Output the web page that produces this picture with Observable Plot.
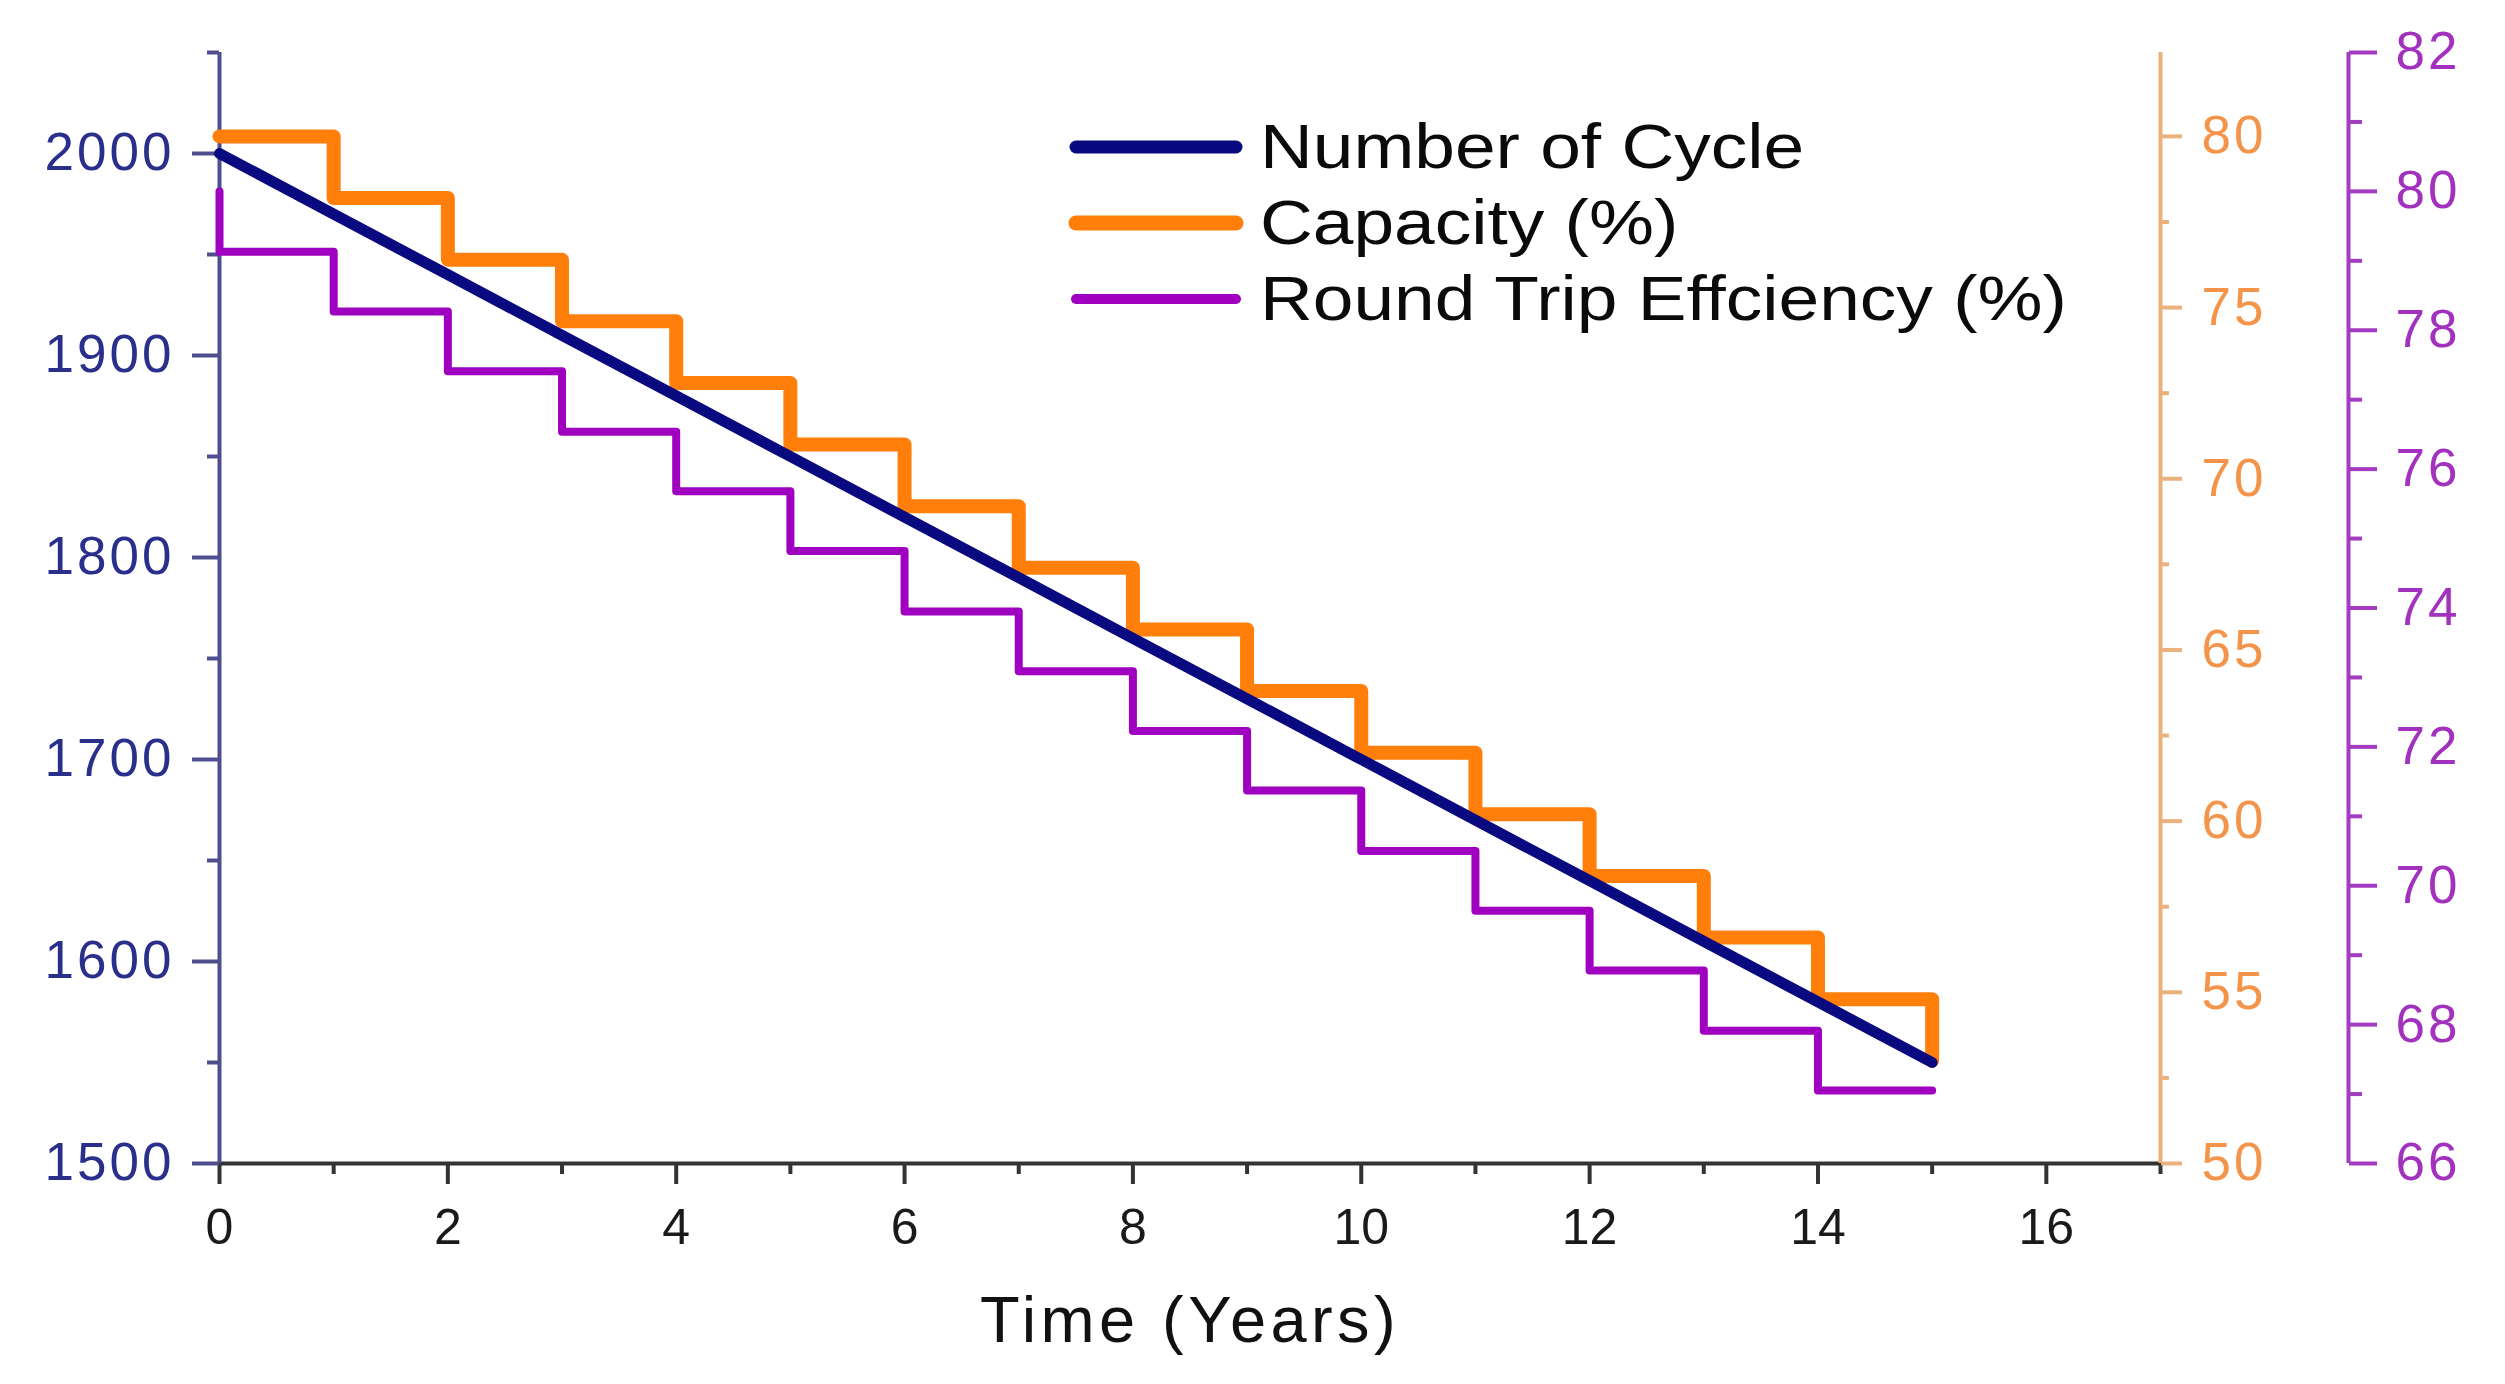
<!DOCTYPE html>
<html>
<head>
<meta charset="utf-8">
<script src="https://cdn.jsdelivr.net/npm/d3@7"></script>
<script src="https://cdn.jsdelivr.net/npm/@observablehq/plot@0.6"></script>
<style>
html,body{margin:0;padding:0;background:#fff;}
#chart{position:relative;width:2505px;height:1384px;overflow:hidden;}
#chart > svg{position:absolute;left:0;top:0;}
g[aria-label="x-axis label"] text{letter-spacing:4.4px;}
g[aria-label="y-axis tick label"] text{letter-spacing:3px;}
</style>
</head>
<body>
<div id="chart"></div>
<script>
// ---- data ----
const years = [0,1,2,3,4,5,6,7,8,9,10,11,12,13,14,15];
const numberOfCycle = [2000,1970,1940,1910,1880,1850,1820,1790,1760,1730,1700,1670,1640,1610,1580,1550];
const capacity = [80,78.2,76.4,74.6,72.8,71,69.2,67.4,65.6,63.8,62,60.2,58.4,56.6,54.8,53];
const roundTripEfficiency = [80,79.13,78.27,77.41,76.54,75.68,74.82,73.95,73.09,72.23,71.37,70.5,69.64,68.78,67.91,67.05];

const seriesNames = ["Number of Cycle", "Capacity (%)", "Round Trip Effciency (%)"];

const xMajorTicks = [0,2,4,6,8,10,12,14,16];
const xMinorTicks = [1,3,5,7,9,11,13,15,17];
const cycleMajorTicks = [1500,1600,1700,1800,1900,2000];
const cycleMinorTicks = [1550,1650,1750,1850,1950,2050];
const capacityMajorTicks = [50,55,60,65,70,75,80];
const capacityMinorTicks = [52.5,57.5,62.5,67.5,72.5,77.5];
const rteMajorTicks = [66,68,70,72,74,76,78,80,82];
const rteMinorTicks = [67,69,71,73,75,77,79,81];

const xDomain = [0,17];
const cycleDomain = [1500,2050];
const capacityDomain = [50,82.45];
const rteDomain = [66,82];

// ---- styles ----
const navy = "#0a0a80", orange = "#ff7f0a", purple = "#a000bf";
const leftAxisColor = "#4e4e8e", leftLabelColor = "#2b2f8c";
const capAxisColor = "#eab17c", capLabelColor = "#f3944a";
const rteAxisColor = "#a43cc2", rteLabelColor = "#a232be";
const W = 2505, H = 1384, ML = 219, MR = 345, MT = 52, MB = 221;
const RTE_DX = 188;

const lin = (from, to) => v => to[0] + (v - from[0]) * (to[1] - to[0]) / (from[1] - from[0]);
const capToY = lin(capacityDomain, cycleDomain), yToCap = lin(cycleDomain, capacityDomain);
const rteToY = lin(rteDomain, cycleDomain), yToRte = lin(cycleDomain, rteDomain);
const fmtVia = f => y => String(Math.round(f(y)));

const rows = years.map((t, i) => ({t, cyc: numberOfCycle[i], cap: capacity[i], rte: roundTripEfficiency[i]}));

const chart = Plot.plot({
  width: W, height: H,
  marginLeft: ML, marginRight: MR, marginTop: MT, marginBottom: MB,
  style: {fontFamily: '"Liberation Sans", Arial, sans-serif', background: "#fff", overflow: "visible"},
  x: {domain: xDomain},
  y: {domain: cycleDomain},
  marks: [
    // axis lines
    Plot.ruleY([cycleDomain[0]], {stroke: "#333", strokeWidth: 4}),
    Plot.ruleX([xDomain[0]], {stroke: leftAxisColor, strokeWidth: 4}),
    Plot.ruleX([xDomain[1]], {stroke: capAxisColor, strokeWidth: 4}),
    Plot.ruleX([xDomain[1]], {stroke: rteAxisColor, strokeWidth: 4, dx: RTE_DX}),
    // x axis
    Plot.axisX({ticks: xMajorTicks, tickSize: 21, tickPadding: 24, stroke: "#333", strokeWidth: 4, fill: "#1a1a1a", fontSize: 50, tickFormat: "d", label: null}),
    Plot.axisX({ticks: xMinorTicks, tickSize: 11, stroke: "#333", strokeWidth: 4, tickFormat: () => "", label: null}),
    Plot.axisX({ticks: [], tickSize: 0, label: "Time (Years)", labelAnchor: "center", labelOffset: 178, labelArrow: "none", fontSize: 65, fill: "#111"}),
    // left axis
    Plot.axisY({ticks: cycleMajorTicks, tickSize: 27, tickPadding: 18, stroke: leftAxisColor, strokeWidth: 4, fill: leftLabelColor, fontSize: 53, tickFormat: "d", label: null}),
    Plot.axisY({ticks: cycleMinorTicks, tickSize: 12, stroke: leftAxisColor, strokeWidth: 4, tickFormat: () => "", label: null}),
    // capacity axis
    Plot.axisY({anchor: "right", ticks: capacityMajorTicks.map(capToY), tickSize: 21, tickPadding: 20, stroke: capAxisColor, strokeWidth: 4, fill: capLabelColor, fontSize: 53, tickFormat: fmtVia(yToCap), label: null}),
    Plot.axisY({anchor: "right", ticks: capacityMinorTicks.map(capToY), tickSize: 8, stroke: capAxisColor, strokeWidth: 4, tickFormat: () => "", label: null}),
    // RTE axis
    Plot.axisY({anchor: "right", dx: RTE_DX, ticks: rteMajorTicks.map(rteToY), tickSize: 28, tickPadding: 19, stroke: rteAxisColor, strokeWidth: 4, fill: rteLabelColor, fontSize: 53, tickFormat: fmtVia(yToRte), label: null}),
    Plot.axisY({anchor: "right", dx: RTE_DX, ticks: rteMinorTicks.map(rteToY), tickSize: 13, stroke: rteAxisColor, strokeWidth: 4, tickFormat: () => "", label: null}),
    // data
    Plot.line(rows, {x: "t", y: d => capToY(d.cap), curve: "step-after", stroke: orange, strokeWidth: 14}),
    Plot.line(rows, {x: "t", y: d => rteToY(d.rte), curve: "step-before", stroke: purple, strokeWidth: 8}),
    Plot.line(rows, {x: "t", y: "cyc", stroke: navy, strokeWidth: 11})
  ]
});
document.getElementById("chart").appendChild(chart);

// ---- legend (overlay) ----
const legendColors = [navy, orange, purple];
const legendThickness = [13, 15, 10];
const lg = d3.select("#chart").append("svg")
  .attr("width", W).attr("height", H)
  .style("pointer-events", "none")
  .attr("font-family", '"Liberation Sans", Arial, sans-serif');
const row = lg.selectAll("g").data(seriesNames).join("g")
  .attr("transform", (d, i) => `translate(1070, ${168 + i * 76})`);
row.append("line")
  .attr("x1", 6).attr("x2", 166).attr("y1", -21).attr("y2", -21)
  .attr("stroke", (d, i) => legendColors[i])
  .attr("stroke-width", (d, i) => legendThickness[i])
  .attr("stroke-linecap", "round");
row.append("text")
  .attr("transform", "translate(190,0) scale(1.16,1)")
  .attr("font-size", 63)
  .attr("fill", "#0a0a0a")
  .text(d => d);
</script>
</body>
</html>
